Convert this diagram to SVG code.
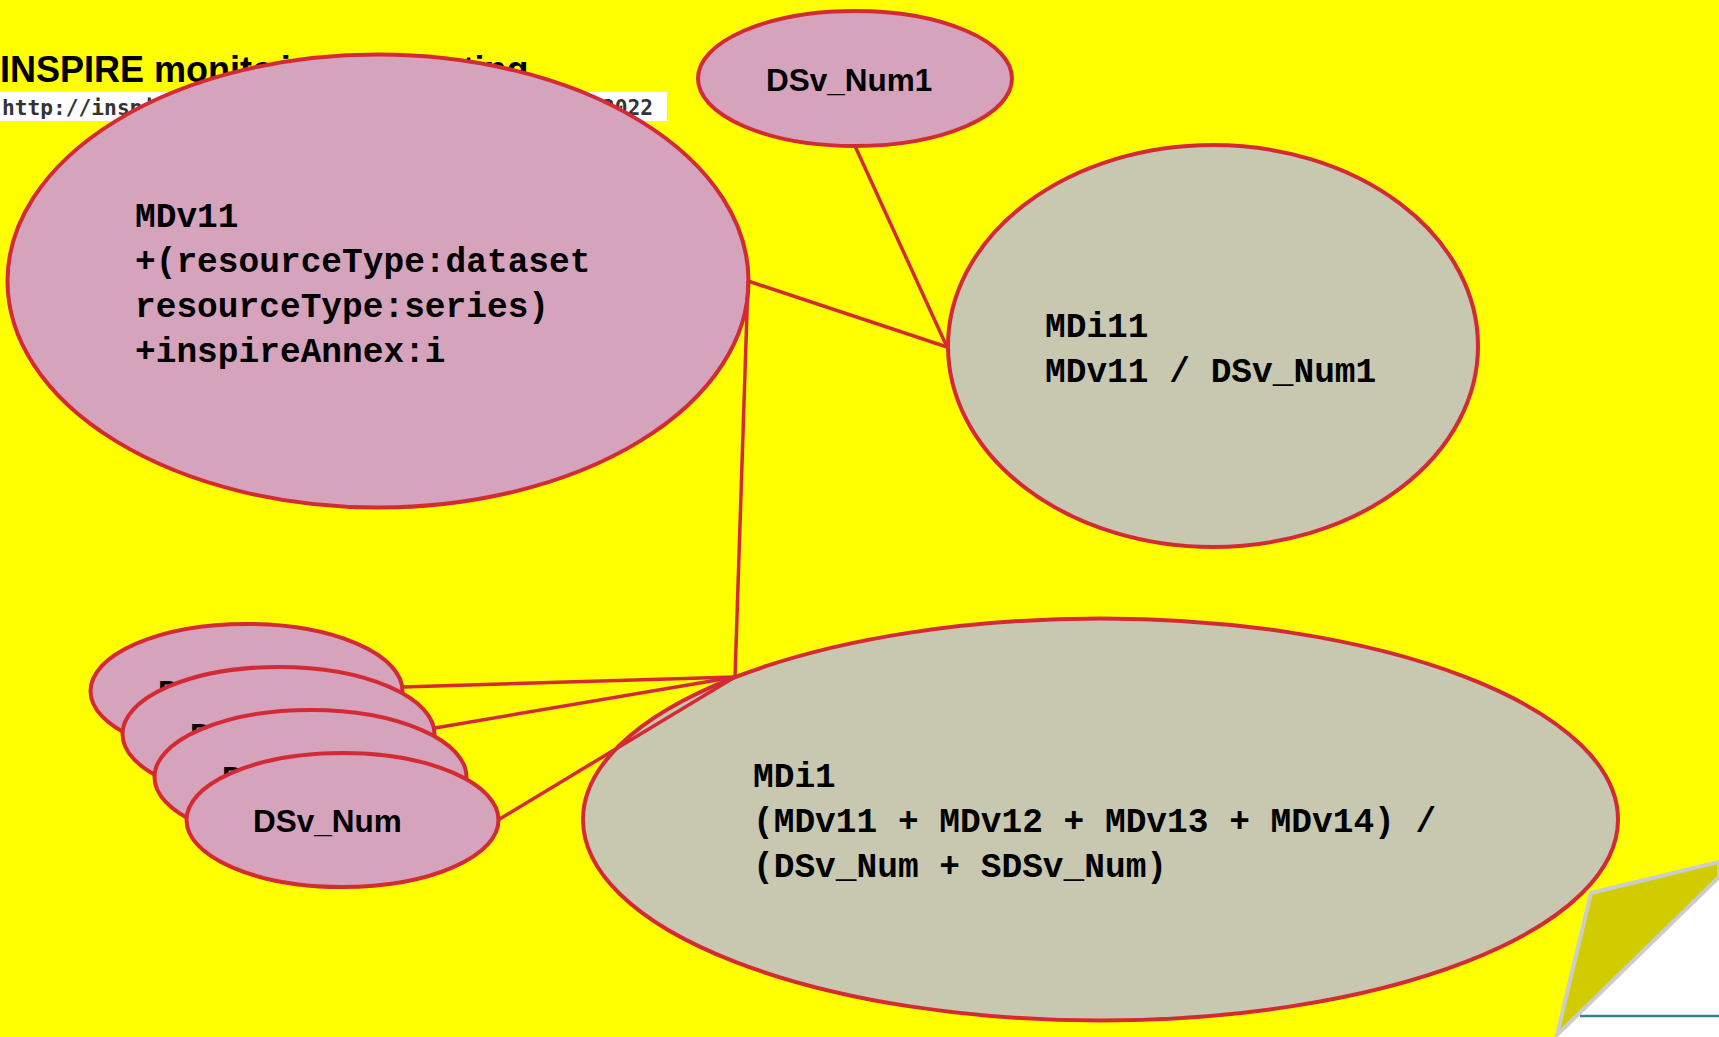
<svg xmlns="http://www.w3.org/2000/svg" width="1719" height="1037" viewBox="0 0 1719 1037">
<style>
.pink{fill:#D5A3BB;stroke:#D42A34;stroke-width:4}
.beige{fill:#C8C7AF;stroke:#D42A34;stroke-width:4}
.mono{font-family:"Liberation Mono","DejaVu Sans Mono",monospace;font-weight:bold;font-size:34.5px;fill:#000}
.sans{font-family:"Liberation Sans",Arial,sans-serif;font-weight:bold;font-size:31.5px;fill:#000}
.conn line{stroke:#D42A34;stroke-width:3.5;fill:none}
</style>
<rect x="0" y="0" width="1719" height="1037" fill="#FFFF00"/>
<g id="header">
<text x="0" y="82" font-family="'Liberation Sans',Arial,sans-serif" font-weight="bold" font-size="36" fill="#000">INSPIRE monit<tspan letter-spacing="-3.7">oring and repor</tspan>ting</text>
<rect x="0" y="92" width="667" height="29" fill="#FFFFFF"/>
<text x="2" y="115" font-family="'DejaVu Sans Mono',monospace" font-weight="bold" font-size="21" fill="#333" textLength="651" lengthAdjust="spacingAndGlyphs">http://inspire.ec.europa.eu/monitoring-reports/2022</text>
</g>
<g id="node-MDv11">
<ellipse class="pink" cx="378" cy="281" rx="370.5" ry="226.5"/>
<text class="mono"><tspan x="135" y="227">MDv11</tspan><tspan x="135" y="271.5">+(resourceType:dataset</tspan><tspan x="135" y="316.5">resourceType:series)</tspan><tspan x="135" y="361.5">+inspireAnnex:i</tspan></text>
</g>
<g id="node-DSv_Num1">
<ellipse class="pink" cx="855" cy="78.5" rx="157" ry="67.5"/>
<text class="sans" x="766" y="91">DSv_Num1</text>
</g>
<g id="node-MDi11">
<ellipse class="beige" cx="1213" cy="346" rx="265" ry="201"/>
<text class="mono"><tspan x="1045" y="337">MDi11</tspan><tspan x="1045" y="382">MDv11 / DSv_Num1</tspan></text>
</g>
<g id="node-DSv_Num-a">
<ellipse class="pink" cx="246.5" cy="691" rx="156" ry="67"/>
<text class="sans" x="158" y="703">DSv_Num</text>
</g>
<g id="node-DSv_Num-b">
<ellipse class="pink" cx="278.5" cy="734" rx="156" ry="67"/>
<text class="sans" x="190" y="746">DSv_Num</text>
</g>
<g id="node-DSv_Num-c">
<ellipse class="pink" cx="310.5" cy="777" rx="156" ry="67"/>
<text class="sans" x="222" y="789">DSv_Num</text>
</g>
<g id="node-DSv_Num">
<ellipse class="pink" cx="342.5" cy="820" rx="156" ry="67"/>
<text class="sans" x="253" y="832">DSv_Num</text>
</g>
<g id="node-MDi1">
<ellipse class="beige" cx="1100.5" cy="819.5" rx="517.5" ry="201"/>
<text class="mono"><tspan x="753" y="787">MDi1</tspan><tspan x="753" y="832">(MDv11 + MDv12 + MDv13 + MDv14) /</tspan><tspan x="753" y="877">(DSv_Num + SDSv_Num)</tspan></text>
</g>
<g id="connectors" class="conn">
<line x1="855" y1="146" x2="947" y2="347"/>
<line x1="748" y1="281" x2="947" y2="347"/>
<line x1="748" y1="281" x2="735" y2="677"/>
<line x1="403" y1="687" x2="735" y2="677"/>
<line x1="435" y1="728" x2="735" y2="677"/>
<line x1="498" y1="820" x2="735" y2="677"/>
</g>
<g id="page-curl">
<polygon points="1719,877 1557,1037 1719,1037" fill="#FFFFFF"/>
<line x1="1580" y1="1016" x2="1719" y2="1016" stroke="#3A7F92" stroke-width="2.5"/>
<polygon points="1719,862 1591,893 1557,1035 1719,877" fill="#D0CC00" stroke="#CCCCCC" stroke-width="4" stroke-linejoin="miter"/>
</g>
</svg>
